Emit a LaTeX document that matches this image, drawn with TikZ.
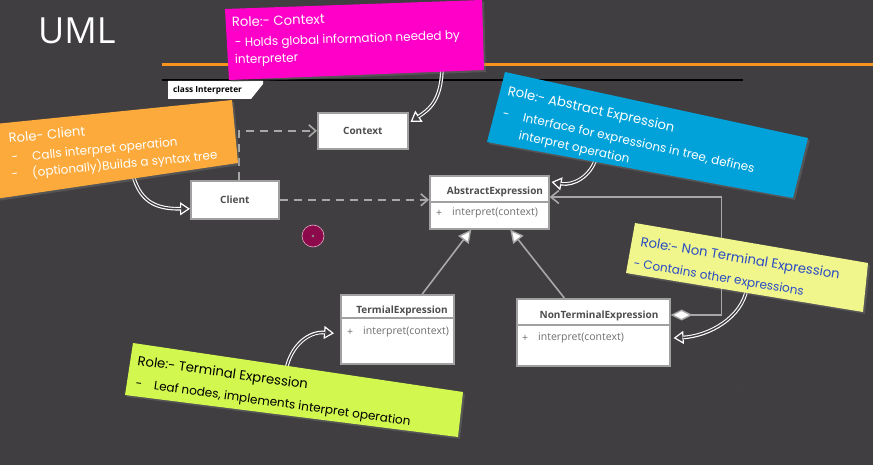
\documentclass[tikz,border=0pt]{standalone}
\usepackage{fontspec}
\setmainfont{Open Sans}
\newfontfamily\hand{Poppins}
\usetikzlibrary{arrows.meta,shadows,calc}
\definecolor{bgc}{RGB}{64,62,65}
\definecolor{orangeln}{RGB}{247,148,30}
\definecolor{boxc}{RGB}{160,160,160}
\definecolor{hdrc}{RGB}{77,77,77}
\definecolor{methc}{RGB}{110,110,110}
\definecolor{linec}{RGB}{168,168,168}
\definecolor{dotc}{RGB}{140,10,75}
\definecolor{dotb}{RGB}{230,170,200}
\definecolor{pinkn}{RGB}{255,0,200}
\definecolor{orangen}{RGB}{251,170,59}
\definecolor{bluen}{RGB}{0,162,217}
\definecolor{yellown}{RGB}{240,245,140}
\definecolor{greenn}{RGB}{210,248,80}
\definecolor{bluetxt}{RGB}{42,75,197}
\begin{document}
\begin{tikzpicture}[x=1pt,y=-1pt,
  umlbox/.style={draw=boxc, fill=white, line width=1.6pt, inner sep=0pt, anchor=north west,
    font=\bfseries\fontsize{10}{12}\selectfont, text=hdrc},
  hdr/.style={font=\bfseries\fontsize{10}{12}\selectfont, text=hdrc, inner sep=0pt},
  meth/.style={font=\fontsize{10.5}{12}\selectfont, text=methc, inner sep=0pt, anchor=west},
  sepline/.style={draw=boxc, line width=1.4pt},
  dep/.style={draw=linec, line width=1.6pt, dash pattern=on 8pt off 6pt,
    -{Straight Barb[length=7pt,width=12pt]}},
  gen/.style={draw=linec, line width=1.6pt,
    -{Triangle[length=13pt,width=13pt,fill=white,line width=1.4pt]}},
  agg/.style={draw=linec, line width=1.6pt,
    {Diamond[length=22pt,width=11pt,fill=white,line width=1.4pt]}-{Straight Barb[length=8pt,width=13pt]}},
  hollow/.style={draw=white, line width=3.6pt,
    -{Triangle[length=10pt,width=13pt,fill=bgc,line width=1.2pt]},
    postaction={draw=bgc, line width=1.4pt, shorten >=9pt, -}},
  note/.style={drop shadow={opacity=0.35, shadow xshift=2pt, shadow yshift=-2pt}},
  notehd/.style={font=\hand\fontsize{13.2}{15}\selectfont, inner sep=0pt, anchor=base west},
  notebd/.style={font=\hand\fontsize{12}{14}\selectfont, inner sep=0pt, anchor=base west}]
\useasboundingbox (0,0) rectangle (873,465);
\fill[bgc] (0,0) rectangle (873,465);

% title and orange rule
\node[anchor=west, text=white, font=\fontsize{36}{40}\selectfont, inner sep=0pt] (title) at (38,31) {UML};
\draw[orangeln, line width=3pt] (162,65) -- (873,65);

% frame
\draw[black!75, line width=0.8pt] (168,80) rectangle (743,389);
\draw[black, line width=1.3pt] (162,80) -- (743,80);
\fill[white] (168,81) -- (263,81) -- (263,84) -- (251,99) -- (168,99) -- cycle;
\node[anchor=west, font=\bfseries\fontsize{8.3}{9}\selectfont, inner sep=0pt] (tab) at (173,90) {class Interpreter};

% classes
\node[umlbox, minimum width=90pt, minimum height=36pt] (context) at (317,112) {Context};
\node[umlbox, minimum width=88pt, minimum height=38pt] (client) at (190,180) {Client};

\node[umlbox, minimum width=119pt, minimum height=53pt] (abs) at (429,175) {};
\draw[sepline] ([yshift=-27pt]abs.north west) -- ([yshift=-27pt]abs.north east);
\node[hdr] (absh) at (495,192) {AbstractExpression};
\node[meth] (absp) at (436,213) {+};
\node[meth] (absm) at (452,213) {interpret(context)};

\node[umlbox, minimum width=113pt, minimum height=69pt] (term) at (340,294) {};
\draw[sepline] ([yshift=-24pt]term.north west) -- ([yshift=-24pt]term.north east);
\node[hdr] (termh) at (402,311) {TermialExpression};
\node[meth] (termp) at (347,332) {+};
\node[meth] (termm) at (363,332) {interpret(context)};

\node[umlbox, minimum width=153pt, minimum height=67pt] (nonterm) at (516,298) {};
\draw[sepline] ([yshift=-27pt]nonterm.north west) -- ([yshift=-27pt]nonterm.north east);
\node[hdr] (nth) at (599,316) {NonTerminalExpression};
\node[meth] (ntp) at (522,338) {+};
\node[meth] (ntm) at (538,338) {interpret(context)};

% purple dot
\node[circle, fill=dotc, draw=dotb, line width=0.6pt, minimum size=22pt, inner sep=0pt] (dot) at (313,236) {};
\fill[black!45] (dot.center) circle (1.3pt);

% connectors
\draw[dep] ([xshift=4pt]client.north) |- (context.west);
\draw[dep] (client.east) -- (client.east -| abs.west);
\draw[gen] ([xshift=25pt]term.north) -- ([xshift=-18pt]abs.south);
\draw[gen] ([xshift=-29pt]nonterm.north) -- ([xshift=21pt]abs.south);
\draw[agg] ([yshift=-17pt]nonterm.north east) -- ++(51,0) |- ([yshift=-22pt]abs.north east);

% note pointers
\coordinate (pinkfrom) at (442,66);
\coordinate (clientfrom) at (133,175);
\coordinate (absfrom) at (596,158);
\coordinate (ntfrom) at (747,288);
\coordinate (termfrom) at (286,370);
\draw[hollow] (pinkfrom) .. controls +(0,35) and +(18,-12) .. ([xshift=2pt,yshift=9pt]context.east);
\draw[hollow] (clientfrom) .. controls +(8,30) and +(-30,0) .. ([yshift=-9pt]client.west);
\draw[hollow] (absfrom) .. controls +(-5,18) and +(22,4) .. ([xshift=2pt,yshift=-7pt]abs.north east);
\draw[hollow] (ntfrom) .. controls +(-5,30) and +(35,-2) .. ([xshift=3pt,yshift=-40pt]nonterm.north east);
\draw[hollow] (termfrom) .. controls +(5,-25) and +(-25,-2) .. ([xshift=-6pt,yshift=-4pt]term.west);

% sticky notes
\fill[pinkn, note] (225,9) -- (482,0) -- (484,70) -- (229,80) -- cycle;
\node[notehd, rotate=2, text=white] (pk1) at (232,27) {Role:- Context};
\node[notebd, rotate=2, text=white] (pk2) at (235,47) {- Holds global information needed by};
\node[notebd, rotate=2, text=white] (pk3) at (235,64) {interpreter};

\fill[orangen, note] (-5,124) -- (232,100) -- (238,163) -- (-5,199) -- cycle;
\node[notehd, rotate=5.5, text=white] (or1) at (9,143) {Role- Client};
\node[notebd, rotate=5.5, text=white] (or2) at (12,162) {-\hspace{14pt}Calls interpret operation};
\node[notebd, rotate=5.5, text=white] (or3) at (12,179) {-\hspace{14pt}(optionally)Builds a syntax tree};

\fill[bluen, note] (505,72) -- (808,138) -- (793,198) -- (487,142) -- cycle;
\node[notehd, rotate=-12.5, text=white] (bl1) at (507,95) {Role:- Abstract Expression};
\node[notebd, rotate=-12.5, text=white] (bl2) at (502,117) {-\hspace{14pt}Interface for expressions in tree, defines};
\node[notebd, rotate=-12.5, text=white] (bl3) at (518,139) {interpret operation};

\fill[yellown, note] (635,223) -- (868,263) -- (863,312) -- (626,273) -- cycle;
\node[notehd, rotate=-9.5, text=bluetxt] (ye1) at (640,246) {Role:- Non Terminal Expression};
\node[notebd, rotate=-9.5, text=bluetxt] (ye2) at (633,267) {- Contains other expressions};

\fill[greenn, note] (133,343) -- (463,392) -- (458,437) -- (125,395) -- cycle;
\node[notehd, rotate=-8, text=black] (gr1) at (137,365) {Role:- Terminal Expression};
\node[notebd, rotate=-8, text=black] (gr2) at (135,387) {-\hspace{12pt}Leaf nodes, implements interpret operation};
\end{tikzpicture}
\end{document}
